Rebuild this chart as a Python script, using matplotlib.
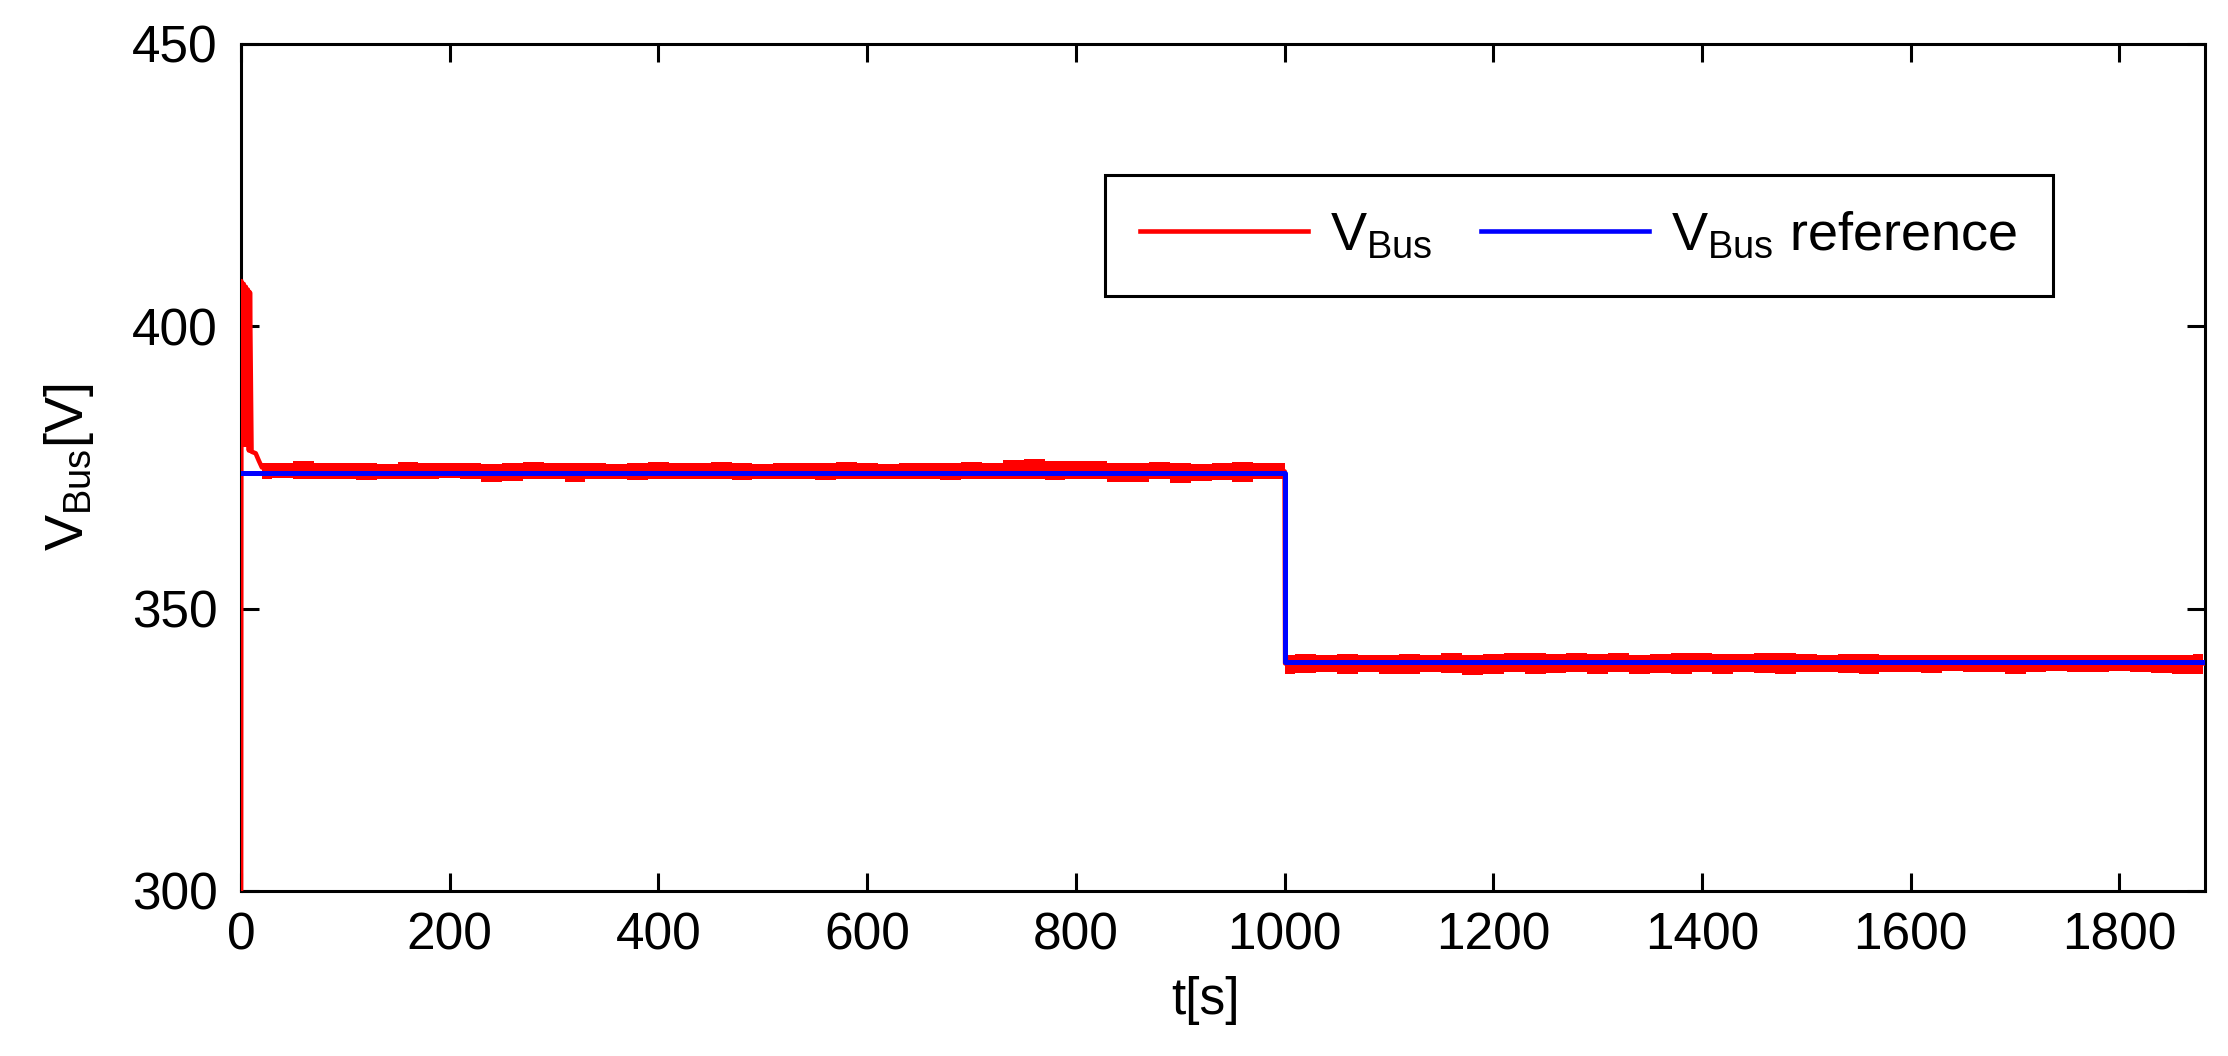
import numpy as np
import matplotlib
matplotlib.use("Agg")
import matplotlib.pyplot as plt
from matplotlib.lines import Line2D

plt.rcParams["font.family"] = ["Liberation Sans", "DejaVu Sans"]
plt.rcParams["mathtext.default"] = "regular"

# V_Bus trace (start-up oscillation + centre of the noisy band)
t_bus = [0, 0.3, 1.5, 2.5, 3.5, 4.5, 5.5, 6.5, 7.5, 8.5, 10, 14, 17, 20,
         1000, 1000.5, 1880]
v_bus = [300, 408, 380, 407.5, 379, 407, 379, 406.5, 378, 406, 377.8, 377.5,
         376.2, 375, 374.3, 340.3, 340.3]

# noise envelope of V_Bus, read every 20 s
t_pre = np.arange(20, 1001, 20)
pre_hi = [375.8, 375.7, 376.1, 375.7, 375.8, 375.7, 375.6, 375.9, 375.7, 375.7,
          375.8, 375.6, 375.7, 376.0, 375.7, 375.8, 375.7, 375.6, 375.7, 375.9,
          375.7, 375.8, 376.0, 375.7, 375.6, 375.7, 375.8, 375.7, 375.9, 375.7,
          375.6, 375.8, 375.7, 375.7, 376.0, 375.7, 376.3, 376.5, 376.1, 376.2,
          376.1, 375.8, 375.7, 375.9, 375.7, 375.6, 375.8, 376.0, 375.7, 375.8]
pre_lo = [373.0, 373.1, 372.9, 373.0, 372.9, 372.8, 373.0, 372.9, 373.0, 373.1,
          372.9, 372.4, 372.6, 373.0, 372.9, 372.5, 372.9, 373.0, 372.8, 373.0,
          372.9, 372.9, 373.0, 372.8, 372.9, 373.0, 372.9, 372.8, 373.0, 372.9,
          372.9, 373.0, 372.9, 372.8, 373.0, 372.9, 373.0, 372.9, 372.8, 373.0,
          372.9, 372.4, 372.5, 372.9, 372.3, 372.6, 372.8, 372.4, 372.9, 372.9]

t_post = np.arange(1000, 1881, 20)
post_hi = [341.8, 341.9, 341.8, 342.0, 341.8, 341.7, 341.9, 341.8, 342.1, 341.8,
           341.9, 342.2, 342.1, 341.9, 342.2, 342.0, 342.1, 341.8, 341.9, 342.1,
           342.2, 342.0, 341.9, 342.1, 342.2, 341.9, 341.8, 342.0, 341.9, 341.8,
           341.8, 341.7, 341.8, 341.8, 341.7, 341.8, 341.8, 341.7, 341.8, 341.8,
           341.7, 341.8, 341.8, 341.8, 341.9]
post_lo = [338.4, 338.6, 338.8, 338.5, 338.7, 338.4, 338.5, 338.8, 338.6, 338.3,
           338.5, 338.7, 338.4, 338.6, 338.8, 338.5, 338.7, 338.4, 338.6, 338.5,
           338.7, 338.4, 338.8, 338.6, 338.5, 338.7, 338.8, 338.6, 338.5, 338.7,
           338.8, 338.6, 338.9, 338.7, 338.8, 338.5, 338.8, 338.9, 338.7, 338.8,
           338.9, 338.7, 338.6, 338.5, 338.4]

# reference
t_ref = [0, 1000, 1000, 1880]
v_ref = [374, 374, 340.5, 340.5]

fs = 37

fig = plt.figure(figsize=(22.28, 10.56), dpi=100)
ax = fig.add_axes([0.1082, 0.1563, 0.8815, 0.8021])

ax.plot(t_bus, v_bus, color="red", lw=3.3, zorder=3)
ax.fill_between(t_pre, pre_lo, pre_hi, step="mid", color="red", lw=0, zorder=3)
ax.fill_between(t_post, post_lo, post_hi, step="mid", color="red", lw=0, zorder=3)
ax.plot(t_ref, v_ref, color="#0000ff", lw=3.6, zorder=4)

ax.set_xlim(0, 1882)
ax.set_ylim(300, 450)
ax.set_xticks(range(0, 1801, 200))
ax.set_yticks([300, 350, 400, 450])

for s in ax.spines.values():
    s.set_linewidth(2.2)
ax.tick_params(direction="in", length=13, width=2.2, top=True, right=True,
               labelsize=fs)
ax.tick_params(axis="x", pad=15)
ax.tick_params(axis="y", pad=17)

ax.set_xlabel("t[s]", fontsize=fs)
ax.xaxis.set_label_coords(0.491, -0.10)
ax.set_ylabel(r"V$_{\mathregular{Bus}}$[V]", fontsize=fs + 2)
ax.yaxis.set_label_coords(-0.074, 0.5)

handles = [Line2D([], [], color="red", lw=3.3),
           Line2D([], [], color="#0000ff", lw=3.3)]
labels = [r"V$_{\mathregular{Bus}}$", r"V$_{\mathregular{Bus}}$ reference"]
leg = ax.legend(handles, labels, loc="upper left", bbox_to_anchor=(0.44, 0.8453),
                borderaxespad=0, ncol=2, fontsize=39, fancybox=False,
                framealpha=1, edgecolor="black", borderpad=0.65,
                handlelength=3.1, handletextpad=0.4, columnspacing=0.9)
leg.get_frame().set_linewidth(2.2)

fig.savefig("out.png", dpi=100)
